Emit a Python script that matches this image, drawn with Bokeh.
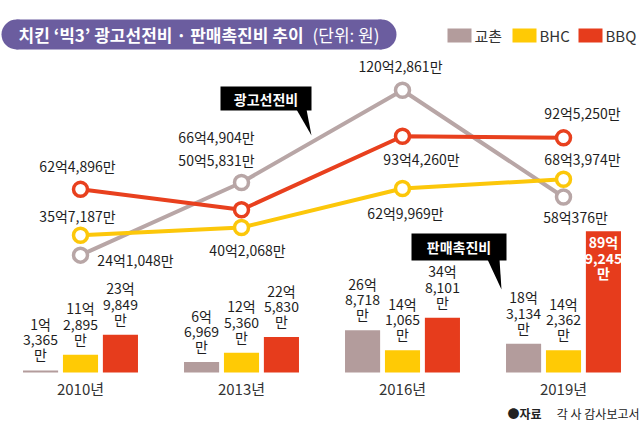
from bokeh.plotting import figure
from bokeh.models import Range1d, ColumnDataSource
from bokeh.transform import dodge
from bokeh.embed import file_html
from bokeh.resources import INLINE
from bokeh.core.properties import value

# ---------------- data (unit: 만원) ----------------
years = ["2010년", "2013년", "2016년", "2019년"]
brands = ["교촌", "BHC", "BBQ"]
# 광고선전비
ad_kyochon = [241048, 664904, 1202861, 580376]
ad_bhc = [357187, 402068, 629969, 683974]
ad_bbq = [624896, 505831, 934260, 925250]
# 판매촉진비
promo_kyochon = [13365, 66969, 268718, 183134]
promo_bhc = [112895, 125360, 141065, 142362]
promo_bbq = [239849, 225830, 348101, 899245]

title_main = "치킨 ‘빅3’ 광고선전비 · 판매촉진비 추이"
title_unit = "(단위: 원)"
callout_ad = "광고선전비"
callout_promo = "판매촉진비"
source_bold = "●자료"
source_rest = "각 사 감사보고서"

# ---------------- styles ----------------
W, H = 640, 437
FONT = value("Noto Sans CJK KR")
bar_colors = ["#b39c9c", "#ffca05", "#e63c1c"]
line_colors = ["#b8a6a6", "#fcc70a", "#e8401e"]
TXT = "#1e1e1e"

GROUP_PX = 161.0
FIRST_PX = 80.0
BAR_ZERO_PX, BAR_SCALE = 372.0, 1.57    # px per 억
LINE_ZERO_PX, LINE_SCALE = 296.0, 1.715

def eok(v):
    return v / 10000.0

def fmt_line(v):
    e, m = divmod(v, 10000)
    return f"{e}억{m:,}만"

def fmt_bar(v):
    e, m = divmod(v, 10000)
    return f"{e}억\n{m:,}\n만"

p = figure(width=W, height=H,
           x_range=Range1d(-FIRST_PX / GROUP_PX, (W - FIRST_PX) / GROUP_PX),
           y_range=Range1d(-(H - BAR_ZERO_PX) / BAR_SCALE, BAR_ZERO_PX / BAR_SCALE),
           output_backend="svg", toolbar_location=None, min_border=0,
           x_axis_location=None, y_axis_location=None)
p.outline_line_color = None
p.grid.visible = False
p.background_fill_color = "white"
p.extra_y_ranges = {
    "line": Range1d(-(H - LINE_ZERO_PX) / LINE_SCALE, LINE_ZERO_PX / LINE_SCALE),
    "py": Range1d(0, H),
}
p.extra_x_ranges = {"px": Range1d(0, W)}

def Y(py):
    return H - py

idx = list(range(len(years)))

# ---------------- bars ----------------
bar_src = ColumnDataSource(dict(
    idx=idx,
    k=[eok(v) for v in promo_kyochon],
    b=[eok(v) for v in promo_bhc],
    q=[eok(v) for v in promo_bbq],
))
offs = [-0.248, 0.0, 0.248]
for col, off, c in zip(["k", "b", "q"], offs, bar_colors):
    p.vbar(x=dodge("idx", off), top=col, width=0.218, bottom=0,
           source=bar_src, fill_color=c, line_color=None)

# bar labels
LH = 0.76
for vals, off in zip([promo_kyochon, promo_bhc, promo_bbq], offs):
    out_x, out_y, out_t, in_x, in_y, in_t = [], [], [], [], [], []
    for i, v in enumerate(vals):
        if v > 500000:
            in_x.append(i + off); in_y.append(eok(v)); in_t.append(fmt_bar(v))
        else:
            out_x.append(i + off); out_y.append(eok(v)); out_t.append(fmt_bar(v))
    if out_x:
        p.text(x=out_x, y=out_y, text=out_t, text_font=FONT, text_font_size="14px",
               text_color=TXT, text_align="center", text_baseline="bottom",
               text_line_height=LH, y_offset=-6)
    if in_x:
        p.text(x=in_x, y=in_y, text=in_t, text_font=FONT, text_font_size="14px",
               text_color="white", text_font_style="bold", text_align="center",
               text_baseline="top", text_line_height=LH, y_offset=1)

# year labels
p.text(x=idx, y=[Y(388)] * 4, y_range_name="py", text=years, text_font=FONT,
       text_font_size="15px", text_color="#333333", text_align="center",
       text_baseline="middle")

# ---------------- lines ----------------
for vals, c in zip([ad_kyochon, ad_bhc, ad_bbq], line_colors):
    p.line(x=idx, y=[eok(v) for v in vals], y_range_name="line",
           line_color=c, line_width=4)

# callouts (drawn over lines)
p.quad(left=[220], right=[311], top=[Y(86)], bottom=[Y(110)],
       x_range_name="px", y_range_name="py", fill_color="black", line_color=None)
p.patch(x=[296, 306, 311], y=[Y(109), Y(109), Y(135)],
        x_range_name="px", y_range_name="py", fill_color="black", line_color=None)
p.text(x=[265.5], y=[Y(98)], text=[callout_ad], x_range_name="px", y_range_name="py",
       text_font=FONT, text_font_size="14px", text_font_style="bold",
       text_color="white", text_align="center", text_baseline="middle")

p.quad(left=[411], right=[506], top=[Y(233)], bottom=[Y(260)],
       x_range_name="px", y_range_name="py", fill_color="black", line_color=None)
p.patch(x=[487, 499, 501], y=[Y(259), Y(259), Y(289)],
        x_range_name="px", y_range_name="py", fill_color="black", line_color=None)
p.text(x=[458.5], y=[Y(246.5)], text=[callout_promo], x_range_name="px", y_range_name="py",
       text_font=FONT, text_font_size="14px", text_font_style="bold",
       text_color="white", text_align="center", text_baseline="middle")

for vals, c in zip([ad_kyochon, ad_bhc, ad_bbq], line_colors):
    p.scatter(x=idx, y=[eok(v) for v in vals], y_range_name="line", marker="circle",
              size=14, fill_color="white", line_color=c, line_width=3.5)

# line value labels (offsets in screen px)
label_off = {
    "k": ([55, -25, -2, 12], [5, -45, -24, 20]),
    "b": ([-3, 6, 3, 19], [-19, 22, 25, -20]),
    "q": ([-3, -25, 19, 19], [-23, -50, 23, -25]),
}
for key, vals in zip(["k", "b", "q"], [ad_kyochon, ad_bhc, ad_bbq]):
    xo, yo = label_off[key]
    p.text(x=idx, y=[eok(v) for v in vals], y_range_name="line",
           text=[fmt_line(v) for v in vals], x_offset=xo, y_offset=yo,
           text_font=FONT, text_font_size="14px", text_color=TXT,
           text_align="center", text_baseline="middle")

# ---------------- title pill ----------------
p.quad(left=[16], right=[381], top=[Y(19)], bottom=[Y(49)],
       x_range_name="px", y_range_name="py", fill_color="#6b5d9f", line_color=None)
p.scatter(x=[16, 381], y=[Y(34), Y(34)], x_range_name="px", y_range_name="py",
          marker="circle", size=30, fill_color="#6b5d9f", line_color=None)
p.text(x=[18], y=[Y(34)], text=[title_main], x_range_name="px", y_range_name="py",
       text_font=FONT, text_font_size="17px", text_font_style="bold",
       text_color="white", text_align="left", text_baseline="middle")
p.text(x=[312], y=[Y(34)], text=[title_unit], x_range_name="px", y_range_name="py",
       text_font=FONT, text_font_size="17px", text_color="white",
       text_align="left", text_baseline="middle")

# ---------------- legend ----------------
leg_x = [447, 512, 578]
p.quad(left=leg_x, right=[x + 24 for x in leg_x], top=[Y(28)] * 3, bottom=[Y(42)] * 3,
       x_range_name="px", y_range_name="py", fill_color=bar_colors, line_color=None)
p.text(x=[x + 27 for x in leg_x], y=[Y(35)] * 3, text=brands,
       x_range_name="px", y_range_name="py", text_font=FONT, text_font_size="15px",
       text_color="#333333", text_align="left", text_baseline="middle")

# ---------------- source ----------------
p.text(x=[507], y=[Y(413)], text=[source_bold], x_range_name="px", y_range_name="py",
       text_font=FONT, text_font_size="12px", text_font_style="bold",
       text_color="#222222", text_align="left", text_baseline="middle")
p.text(x=[639], y=[Y(413)], text=[source_rest], x_range_name="px", y_range_name="py",
       text_font=FONT, text_font_size="12px", text_color="#222222",
       text_align="right", text_baseline="middle")

open("out.html", "w").write(file_html(p, INLINE))
